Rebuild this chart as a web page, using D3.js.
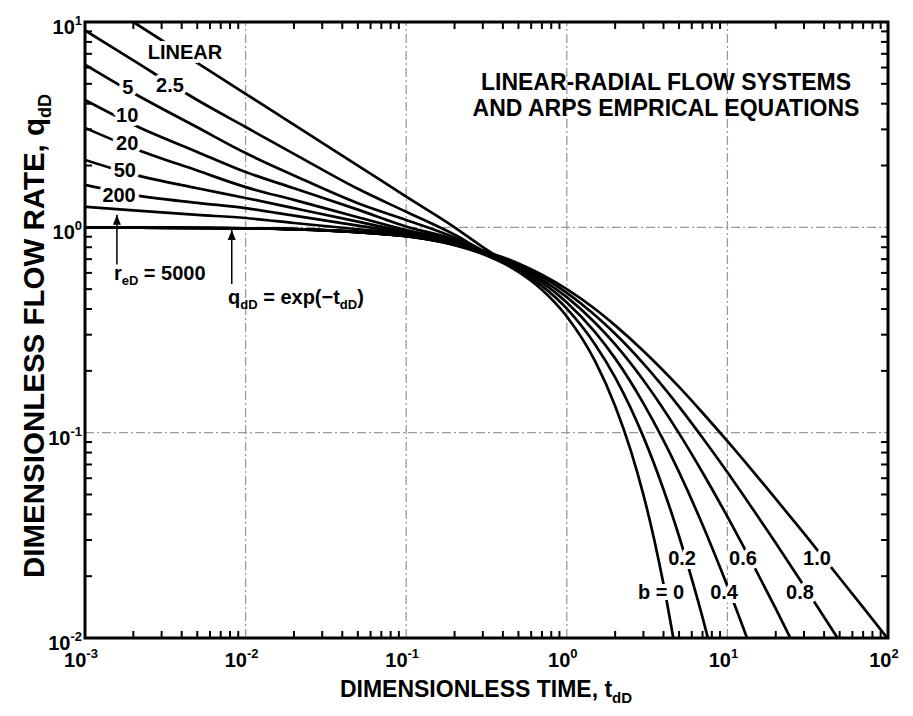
<!DOCTYPE html>
<html>
<head>
<meta charset="utf-8">
<script src="https://cdn.jsdelivr.net/npm/d3@7"></script>
<style>
body { margin: 0; background: #fff; }
text { font-family: "Liberation Sans", Arial, Helvetica, sans-serif; font-weight: bold; fill: #000; }
</style>
</head>
<body>
<div id="graph"></div>
<script>
// transient stems (r_eD), t_dD vs q_dD
var tStem = [0.001, 0.002, 0.005, 0.01, 0.02, 0.05, 0.1, 0.2, 0.3, 0.4];
var qStem25   = [9.1, 6.5, 4.17, 3.08, 2.28, 1.54, 1.19, 0.92, 0.77, 0.69];
var qStem5    = [6.2, 4.51, 3.07, 2.3, 1.79, 1.31, 1.085, 0.89, 0.765, 0.685];
var qStem10   = [4.17, 3.16, 2.33, 1.86, 1.55, 1.22, 1.01, 0.87, 0.76, 0.68];
var qStem20   = [3.05, 2.43, 1.89, 1.57, 1.36, 1.12, 0.97, 0.86, 0.755, 0.68];
var qStem50   = [2.13, 1.81, 1.55, 1.39, 1.24, 1.066, 0.95, 0.85, 0.752, 0.678];
var qStem200  = [1.61, 1.44, 1.316, 1.24, 1.14, 1.02, 0.94, 0.84, 0.75, 0.676];
var qStem5000 = [1.26, 1.21, 1.15, 1.11, 1.05, 0.979, 0.93, 0.83, 0.745, 0.674];

// linear flow stem
var tLinear = [0.001, 0.002, 0.01, 0.05, 0.1, 0.2, 0.3, 0.4];
var qLinear = [14.1, 10, 4.47, 2.0, 1.41, 1.0, 0.8, 0.69];

// Arps decline stems
var tB0  = [0.001, 0.01, 0.05, 0.1, 0.2, 0.3, 0.5, 0.7, 1, 1.5, 2, 2.5, 3, 3.5, 4, 4.7];
var qB0  = [0.999, 0.99, 0.951, 0.905, 0.819, 0.741, 0.607, 0.497, 0.368, 0.223, 0.135, 0.082, 0.0498, 0.0302, 0.0183, 0.0091];
var tB02 = [0.001, 0.01, 0.05, 0.1, 0.2, 0.3, 0.5, 0.7, 1, 1.5, 2, 3, 4, 5, 6, 7, 7.8];
var qB02 = [0.999, 0.99, 0.951, 0.906, 0.822, 0.747, 0.621, 0.519, 0.402, 0.269, 0.186, 0.0954, 0.0529, 0.0313, 0.0194, 0.0126, 0.0091];
var tB04 = [0.001, 0.01, 0.1, 0.2, 0.3, 0.5, 0.7, 1, 1.5, 2, 3, 4, 5, 7, 10, 14];
var qB04 = [0.999, 0.99, 0.907, 0.825, 0.753, 0.634, 0.539, 0.431, 0.309, 0.23, 0.139, 0.0917, 0.0642, 0.0356, 0.0179, 0.0089];
var tB06 = [0.001, 0.01, 0.1, 0.2, 0.3, 0.5, 0.7, 1, 1.5, 2, 3, 5, 7, 10, 15, 20, 26];
var qB06 = [0.999, 0.99, 0.908, 0.828, 0.759, 0.646, 0.557, 0.457, 0.343, 0.269, 0.18, 0.0992, 0.064, 0.039, 0.0215, 0.0139, 0.0092];
var tB08 = [0.001, 0.01, 0.1, 0.2, 0.3, 0.5, 0.7, 1, 1.5, 2, 3, 5, 7, 10, 15, 20, 30, 52];
var qB08 = [0.999, 0.99, 0.908, 0.831, 0.764, 0.657, 0.574, 0.48, 0.373, 0.303, 0.217, 0.134, 0.0945, 0.0642, 0.0405, 0.029, 0.0179, 0.0092];
var tB1  = [0.001, 0.01, 0.1, 0.2, 0.3, 0.5, 0.7, 1, 1.5, 2, 3, 5, 7, 10, 15, 20, 30, 50, 70, 100];
var qB1  = [0.999, 0.99, 0.909, 0.833, 0.769, 0.667, 0.588, 0.5, 0.4, 0.333, 0.25, 0.167, 0.125, 0.0909, 0.0625, 0.0476, 0.0323, 0.0196, 0.0141, 0.0099];

// tick exponents
var xExp = [-3, -2, -1, 0, 1, 2];
var yExp = [-2, -1, 0, 1];
var titleLines = ["LINEAR-RADIAL FLOW SYSTEMS", "AND ARPS EMPRICAL EQUATIONS"];

var width = 913, height = 716;
var margin = {top: 22, right: 25, bottom: 78, left: 85};

var svg = d3.select('#graph').append('svg')
	.attr('width', width)
	.attr('height', height);

var x = d3.scaleLog().domain([1e-3, 1e2]).range([margin.left, width - margin.right]);
var y = d3.scaleLog().domain([1e-2, 1e1]).range([height - margin.bottom, margin.top]);

svg.append('clipPath').attr('id', 'plotclip')
	.append('rect')
	.attr('x', x.range()[0]).attr('y', y.range()[1])
	.attr('width', x.range()[1] - x.range()[0])
	.attr('height', y.range()[0] - y.range()[1]);

// grid, dash-dot
var gridX = xExp.slice(1, -1).map(e => Math.pow(10, e));
var gridY = [0.1, 1];
var grid = svg.append('g').attr('stroke', '#9a9a9a').attr('stroke-width', 1.3)
	.attr('stroke-dasharray', '9,3,2,3');
grid.selectAll('.gx').data(gridX).enter().append('line')
	.attr('x1', d => x(d)).attr('x2', d => x(d))
	.attr('y1', y.range()[0]).attr('y2', y.range()[1]);
grid.selectAll('.gy').data(gridY).enter().append('line')
	.attr('y1', d => y(d)).attr('y2', d => y(d))
	.attr('x1', x.range()[0]).attr('x2', x.range()[1]);

// curves
var line = d3.line().x(d => x(d[0])).y(d => y(d[1])).curve(d3.curveMonotoneX);
var zip = (ts, qs) => ts.map((t, i) => [t, qs[i]]);

var series = [
	zip(tLinear, qLinear),
	zip(tStem, qStem25), zip(tStem, qStem5), zip(tStem, qStem10), zip(tStem, qStem20),
	zip(tStem, qStem50), zip(tStem, qStem200), zip(tStem, qStem5000),
	zip(tB0, qB0), zip(tB02, qB02), zip(tB04, qB04), zip(tB06, qB06), zip(tB08, qB08), zip(tB1, qB1)
];

svg.append('g').attr('clip-path', 'url(#plotclip)')
	.selectAll('path').data(series).enter().append('path')
	.attr('d', line)
	.attr('fill', 'none')
	.attr('stroke', '#000')
	.attr('stroke-width', 2.7);

// ticks, inward on all four sides
function minorTicks(scale) {
	var d = scale.domain(), out = [];
	for (var e = Math.round(Math.log10(d[0])); e < Math.round(Math.log10(d[1])); e++)
		for (var m = 2; m <= 9; m++) out.push(m * Math.pow(10, e));
	return out;
}
var ticks = svg.append('g').attr('stroke', '#000').attr('stroke-width', 2);
var x0 = x.range()[0], x1 = x.range()[1], yb = y.range()[0], yt = y.range()[1];
ticks.selectAll('.xb').data(minorTicks(x)).enter().append('line')
	.attr('x1', d => x(d)).attr('x2', d => x(d)).attr('y1', yb).attr('y2', yb - 7);
ticks.selectAll('.xt').data(minorTicks(x)).enter().append('line')
	.attr('x1', d => x(d)).attr('x2', d => x(d)).attr('y1', yt).attr('y2', yt + 7);
ticks.selectAll('.yl').data(minorTicks(y)).enter().append('line')
	.attr('y1', d => y(d)).attr('y2', d => y(d)).attr('x1', x0).attr('x2', x0 + 7);
ticks.selectAll('.yr').data(minorTicks(y)).enter().append('line')
	.attr('y1', d => y(d)).attr('y2', d => y(d)).attr('x1', x1).attr('x2', x1 - 7);

// frame
svg.append('rect')
	.attr('x', x0).attr('y', yt).attr('width', x1 - x0).attr('height', yb - yt)
	.attr('fill', 'none').attr('stroke', '#000').attr('stroke-width', 3);

// tick labels 10^n
var xl = svg.append('g').selectAll('text').data(xExp).enter().append('text')
	.attr('x', d => x(Math.pow(10, d)) - 4).attr('y', yb + 29)
	.attr('text-anchor', 'middle').attr('font-size', 20);
xl.append('tspan').text('10');
xl.append('tspan').attr('dy', -9).attr('font-size', 13).text(d => d < 0 ? '-' + (-d) : d);

var yl = svg.append('g').selectAll('text').data(yExp).enter().append('text')
	.attr('x', x0 - 3).attr('y', d => y(Math.pow(10, d)) + 12)
	.attr('text-anchor', 'end').attr('font-size', 20);
yl.append('tspan').text('10');
yl.append('tspan').attr('dy', -9).attr('font-size', 13).text(d => d < 0 ? '-' + (-d) : d);

// axis titles
var xt = svg.append('text').attr('x', 486).attr('y', 697).attr('text-anchor', 'middle').attr('font-size', 23);
xt.append('tspan').text('DIMENSIONLESS TIME, t');
xt.append('tspan').attr('dy', 6).attr('font-size', 15).text('dD');

var ytt = svg.append('text').attr('transform', 'translate(44,336) rotate(-90)')
	.attr('text-anchor', 'middle').attr('font-size', 29.5);
ytt.append('tspan').text('DIMENSIONLESS FLOW RATE, q');
ytt.append('tspan').attr('dy', 7).attr('font-size', 18).text('dD');

// chart title
svg.append('g').selectAll('text').data(titleLines).enter().append('text')
	.attr('x', 666).attr('y', (d, i) => 90 + i * 26)
	.attr('text-anchor', 'middle').attr('font-size', 23)
	.text(d => d);

// curve labels with white halo to break the lines
function halo(sel) {
	sel.attr('stroke', '#fff').attr('stroke-width', 8).attr('stroke-linejoin', 'round')
		.attr('paint-order', 'stroke');
}
var stemLabels = [
	{txt: 'LINEAR', t: 4.19e-3, q: 7.18},
	{txt: '2.5', t: 3.38e-3, q: 4.93},
	{txt: '5', t: 1.85e-3, q: 4.82},
	{txt: '10', t: 1.83e-3, q: 3.52},
	{txt: '20', t: 1.83e-3, q: 2.57},
	{txt: '50', t: 1.77e-3, q: 1.9},
	{txt: '200', t: 1.63e-3, q: 1.44},
	{txt: '0.2', t: 5.22, q: 0.0245},
	{txt: '0.6', t: 12.5, q: 0.0245},
	{txt: '1.0', t: 36.1, q: 0.0245},
	{txt: 'b = 0', t: 3.86, q: 0.01675},
	{txt: '0.4', t: 9.53, q: 0.01675},
	{txt: '0.8', t: 28.3, q: 0.01675}
];
svg.append('g').selectAll('text').data(stemLabels).enter().append('text')
	.attr('x', d => x(d.t)).attr('y', d => y(d.q)).attr('dy', '0.36em')
	.attr('text-anchor', 'middle').attr('font-size', 20)
	.text(d => d.txt).call(halo);

// arrows
var defs = svg.append('defs');
defs.append('marker').attr('id', 'ah').attr('viewBox', '0 0 10 10')
	.attr('refX', 10).attr('refY', 5).attr('markerWidth', 10).attr('markerHeight', 10)
	.attr('markerUnits', 'userSpaceOnUse').attr('orient', 'auto')
	.append('path').attr('d', 'M0,1L10,5L0,9Z').attr('fill', '#000');

var arrows = [
	{t: 1.58e-3, q0: 0.66, q1: 1.15},
	{t: 8.2e-3, q0: 0.53, q1: 0.97}
];
svg.append('g').selectAll('line').data(arrows).enter().append('line')
	.attr('x1', d => x(d.t)).attr('x2', d => x(d.t))
	.attr('y1', d => y(d.q0)).attr('y2', d => y(d.q1))
	.attr('stroke', '#000').attr('stroke-width', 1.5)
	.attr('marker-end', 'url(#ah)');

var r1 = svg.append('text').attr('x', x(1.58e-3) - 3).attr('y', y(0.599)).attr('dy', '0.36em')
	.attr('font-size', 20).attr('font-weight', 'normal');
r1.append('tspan').text('r');
r1.append('tspan').attr('dy', 5).attr('font-size', 13).text('eD');
r1.append('tspan').attr('dy', -5).text(' = 5000');

var r2 = svg.append('text').attr('x', x(8.0e-3) - 2).attr('y', y(0.4575)).attr('dy', '0.36em')
	.attr('font-size', 20).attr('font-weight', 'normal');
r2.append('tspan').text('q');
r2.append('tspan').attr('dy', 5).attr('font-size', 13).text('dD');
r2.append('tspan').attr('dy', -5).text(' = exp(\u2212t');
r2.append('tspan').attr('dy', 5).attr('font-size', 13).text('dD');
r2.append('tspan').attr('dy', -5).text(')');
</script>
</body>
</html>
